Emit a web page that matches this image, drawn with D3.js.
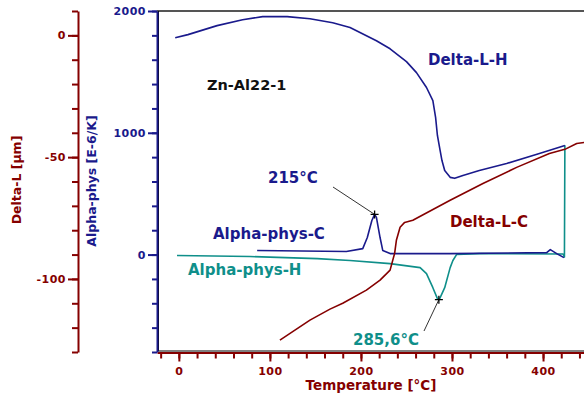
<!DOCTYPE html>
<html>
<head>
<meta charset="utf-8">
<script src="https://cdn.jsdelivr.net/npm/d3@7"></script>
<style>
  body { margin: 0; background: #fff; }
  svg { display: block; font-family: "DejaVu Sans", sans-serif; font-weight: bold; }
  .tick text { font-family: "DejaVu Sans", sans-serif; font-size: 11px; letter-spacing: 0.5px; }
</style>
</head>
<body>
<div id="chart"></div>
<script>
// heating expansion curve (µm)
const dlhTemp = [-4, 10, 42, 70, 92, 119, 144, 169, 188, 217, 232, 250, 261, 272, 279, 282, 284, 287, 289, 292, 298, 303, 312, 330, 360, 396, 424];
const dlhVal = [-1, 0.3, 4, 6.4, 7.7, 7.7, 6.8, 5.2, 3.2, -2.2, -5.5, -10.8, -15.3, -21.4, -26.8, -33.7, -41.1, -47.3, -51.4, -55.5, -58.3, -58.7, -57.5, -55.5, -52.6, -48.5, -45.2];

// cooling expansion curve (µm)
const dlcTemp = [111, 144, 166, 180, 206, 221, 232, 237, 239, 243, 248, 257, 298, 334, 371, 407, 424, 437, 445];
const dlcVal = [-125.1, -116.9, -112.4, -110, -104.6, -100.5, -96.4, -89.5, -84, -78.8, -76.8, -75.9, -67.7, -60.8, -54.2, -48.5, -46.8, -44.4, -44];

// physical alpha, cooling (E-6/K)
const acTemp = [86, 184, 202, 207, 212, 215, 217, 221, 224, 232, 298, 404, 408, 415, 423];
const acVal = [33, 25, 49, 140, 280, 330, 305, 140, 33, 8, 8, 16, 41, 8, -25];

// physical alpha, heating (E-6/K)
const ahTemp = [-2, 78, 152, 188, 232, 265, 272, 279, 284, 286, 292, 298, 301, 305, 330, 422, 423.5, 424];
const ahVal = [-8, -16, -33, -49, -74, -107, -156, -272, -362, -370, -272, -107, -49, 0, 8, 5, -20, 897];

const tempMajor = [0, 100, 200, 300, 400];
const deltaMajor = [0, -50, -100];
const alphaMajor = [0, 1000, 2000];

const W = 584, H = 396;
const red = "#850000", blue = "#1a1a8c", teal = "#0f8f8a";
const plain = d => String(d);

const svg = d3.select("#chart").append("svg").attr("width", W).attr("height", H);

const x = d3.scaleLinear().domain([-24, 445]).range([157, 584]);
const yL = d3.scaleLinear().domain([-130, 10]).range([352, 11]);
const yA = d3.scaleLinear().domain([-800, 2000]).range([352, 11]);

// frame
svg.append("line").attr("x1", 157).attr("x2", W).attr("y1", 11).attr("y2", 11)
    .attr("stroke", "#555").attr("stroke-width", 2);
svg.append("line").attr("x1", 158.5).attr("x2", 158.5).attr("y1", 11).attr("y2", 351)
    .attr("stroke", "#000").attr("stroke-width", 1);
svg.append("line").attr("x1", 157).attr("x2", W).attr("y1", 351).attr("y2", 351)
    .attr("stroke", "#000").attr("stroke-width", 1);

function styleAxis(g, color) {
    g.select(".domain").attr("stroke", color).attr("stroke-width", 2);
    g.selectAll(".tick line").attr("stroke", color).attr("stroke-width", 2);
    g.selectAll(".tick text").attr("fill", color);
}

// temperature axis
const xMinor = d3.range(-20, 441, 20);
svg.append("g").attr("transform", "translate(0,352.5)")
    .call(d3.axisBottom(x).tickValues(xMinor).tickSize(6).tickFormat("").tickSizeOuter(0))
    .call(g => styleAxis(g, red));
svg.append("g").attr("transform", "translate(0,352.5)")
    .call(d3.axisBottom(x).tickValues(tempMajor).tickSize(9).tickPadding(6).tickSizeOuter(0).tickFormat(plain))
    .call(g => styleAxis(g, red))
    .call(g => g.select(".domain").remove());

// Delta-L axis
svg.append("g").attr("transform", "translate(78,0)")
    .call(d3.axisLeft(yL).tickValues(d3.range(-130, 11, 10)).tickSize(6).tickFormat("").tickSizeOuter(0))
    .call(g => styleAxis(g, red));
svg.append("g").attr("transform", "translate(78,0)")
    .call(d3.axisLeft(yL).tickValues(deltaMajor).tickSize(10).tickPadding(2).tickSizeOuter(0).tickFormat(plain))
    .call(g => styleAxis(g, red))
    .call(g => g.select(".domain").remove());

// Alpha axis
svg.append("g").attr("transform", "translate(157,0)")
    .call(d3.axisLeft(yA).tickValues(d3.range(-800, 2001, 200)).tickSize(5).tickFormat("").tickSizeOuter(0))
    .call(g => styleAxis(g, blue));
svg.append("g").attr("transform", "translate(157,0)")
    .call(d3.axisLeft(yA).tickValues(alphaMajor).tickSize(9).tickPadding(2).tickSizeOuter(0).tickFormat(plain))
    .call(g => styleAxis(g, blue))
    .call(g => g.select(".domain").remove());

// axis titles
svg.append("text").attr("transform", "translate(21,180) rotate(-90)")
    .attr("text-anchor", "middle").attr("font-size", 12.5).attr("fill", red).text("Delta-L [µm]");
svg.append("text").attr("transform", "translate(96,181) rotate(-90)")
    .attr("text-anchor", "middle").attr("font-size", 12.5).attr("fill", blue).text("Alpha-phys [E-6/K]");
svg.append("text").attr("x", 371).attr("y", 390)
    .attr("text-anchor", "middle").attr("font-size", 13.5).attr("fill", red).text("Temperature [°C]");

// curves
function drawCurve(ts, vs, yScale, color) {
    const pts = ts.map((t, i) => [t, vs[i]]);
    svg.append("path").datum(pts)
        .attr("d", d3.line().x(d => x(d[0])).y(d => yScale(d[1])))
        .attr("fill", "none").attr("stroke", color).attr("stroke-width", 1.6)
        .attr("stroke-linejoin", "round");
}
drawCurve(ahTemp, ahVal, yA, teal);
drawCurve(acTemp, acVal, yA, blue);
drawCurve(dlhTemp, dlhVal, yL, blue);
drawCurve(dlcTemp, dlcVal, yL, red);

// peak markers with leader lines
function marker(t, v, lx, ly) {
    const px = x(t), py = yA(v);
    svg.append("line").attr("x1", lx).attr("y1", ly).attr("x2", px).attr("y2", py)
        .attr("stroke", "#333").attr("stroke-width", 1);
    svg.append("path").attr("d", `M${px - 4},${py}H${px + 4}M${px},${py - 4}V${py + 4}`)
        .attr("stroke", "#000").attr("stroke-width", 1.3);
}
marker(215, 330, 333, 187);
marker(285.6, -370, 424, 331);

// labels
const labels = [
    ["Zn-Al22-1", 207, 90, "#111", 14.5],
    ["Delta-L-H", 428, 65, blue, 15],
    ["215°C", 268, 183, blue, 15],
    ["Alpha-phys-C", 213, 239, blue, 15],
    ["Delta-L-C", 450, 227, red, 15],
    ["Alpha-phys-H", 188, 275, teal, 15],
    ["285,6°C", 353, 345, teal, 15]
];
labels.forEach(([s, lx, ly, c, fs]) => {
    svg.append("text").attr("x", lx).attr("y", ly).attr("fill", c)
        .attr("font-size", fs).text(s);
});
</script>
</body>
</html>
